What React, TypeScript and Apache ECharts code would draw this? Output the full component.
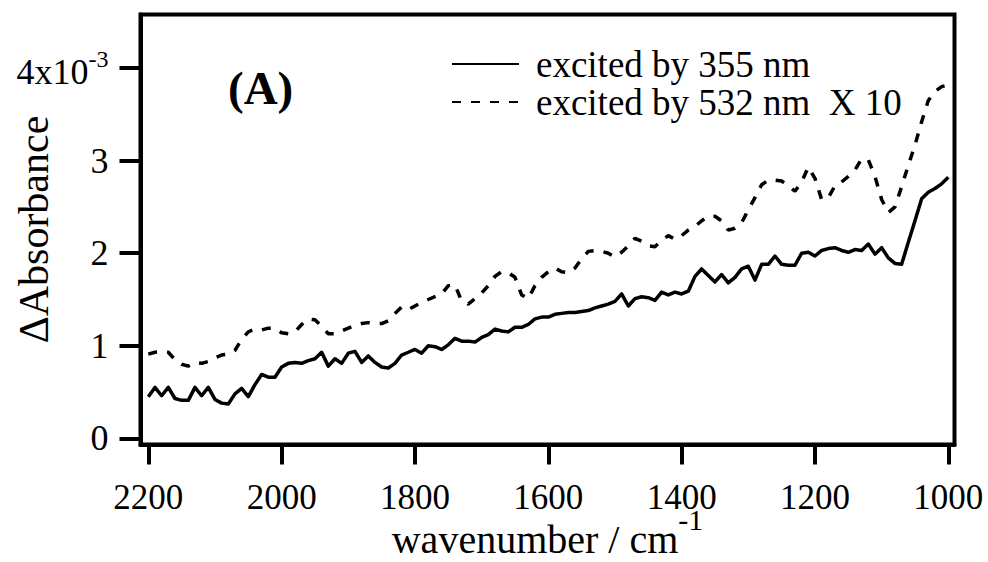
import React, { useEffect, useRef } from 'react';
import * as echarts from 'echarts';

const FONT = '"Liberation Serif", "Times New Roman", Times, serif';

// wavenumber / cm^-1
const wavenumbers = [
  2200, 2190, 2180, 2170, 2160, 2150, 2140, 2130, 2120, 2110,
  2100, 2090, 2080, 2070, 2060, 2050, 2040, 2030, 2020, 2010,
  2000, 1990, 1980, 1970, 1960, 1950, 1940, 1930, 1920, 1910,
  1900, 1890, 1880, 1870, 1860, 1850, 1840, 1830, 1820, 1810,
  1800, 1790, 1780, 1770, 1760, 1750, 1740, 1730, 1720, 1710,
  1700, 1690, 1680, 1670, 1660, 1650, 1640, 1630, 1620, 1610,
  1600, 1590, 1580, 1570, 1560, 1550, 1540, 1530, 1520, 1510,
  1500, 1490, 1480, 1470, 1460, 1450, 1440, 1430, 1420, 1410,
  1400, 1390, 1380, 1370, 1360, 1350, 1340, 1330, 1320, 1310,
  1300, 1290, 1280, 1270, 1260, 1250, 1240, 1230, 1220, 1210,
  1200, 1190, 1180, 1170, 1160, 1150, 1140, 1130, 1120, 1110,
  1100, 1090, 1080, 1070, 1060, 1050, 1040, 1030, 1020, 1010,
  1000,
];

// ΔAbsorbance (x10^-3), excited by 355 nm
const excited355 = [
  0.45, 0.55, 0.46, 0.55, 0.43, 0.41, 0.41, 0.55, 0.46, 0.55,
  0.42, 0.38, 0.37, 0.48, 0.54, 0.45, 0.58, 0.69, 0.66, 0.66,
  0.77, 0.81, 0.82, 0.81, 0.84, 0.86, 0.93, 0.78, 0.86, 0.81,
  0.92, 0.94, 0.82, 0.89, 0.82, 0.77, 0.76, 0.81, 0.90, 0.93,
  0.96, 0.92, 1.00, 0.99, 0.96, 1.01, 1.08, 1.05, 1.05, 1.04,
  1.09, 1.12, 1.18, 1.16, 1.15, 1.20, 1.20, 1.23, 1.29, 1.31,
  1.31, 1.34, 1.35, 1.36, 1.36, 1.37, 1.38, 1.41, 1.43, 1.45,
  1.48, 1.56, 1.43, 1.51, 1.53, 1.52, 1.49, 1.58, 1.55, 1.58,
  1.56, 1.59, 1.75, 1.83, 1.76, 1.69, 1.77, 1.68, 1.74, 1.83,
  1.86, 1.71, 1.88, 1.88, 1.97, 1.88, 1.87, 1.87, 2.00, 2.01,
  1.97, 2.03, 2.05, 2.06, 2.03, 2.01, 2.04, 2.03, 2.10, 1.99,
  2.06, 1.95, 1.89, 1.88, 2.12, 2.35, 2.59, 2.66, 2.70, 2.75,
  2.82,
];

// ΔAbsorbance (x10^-3), excited by 532 nm, multiplied by 10
const excited532x10 = [
  0.91, 0.93, 0.935, 0.93, 0.85, 0.80, 0.78, 0.82, 0.81, 0.83,
  0.87, 0.90, 0.91, 0.95, 1.07, 1.15, 1.18, 1.17, 1.19, 1.19,
  1.14, 1.13, 1.15, 1.23, 1.29, 1.28, 1.21, 1.13, 1.13, 1.16,
  1.19, 1.22, 1.24, 1.25, 1.24, 1.24, 1.27, 1.35, 1.42, 1.39,
  1.43, 1.47, 1.50, 1.53, 1.56, 1.65, 1.66, 1.48, 1.45, 1.51,
  1.57, 1.65, 1.75, 1.80, 1.79, 1.74, 1.55, 1.51, 1.65, 1.74,
  1.80, 1.84, 1.80, 1.79, 1.84, 1.94, 2.02, 2.03, 2.02, 2.00,
  1.96, 2.01, 2.08, 2.16, 2.13, 2.08, 2.07, 2.14, 2.19, 2.15,
  2.19, 2.25, 2.29, 2.35, 2.40, 2.40, 2.35, 2.25, 2.27, 2.33,
  2.47, 2.60, 2.74, 2.79, 2.79, 2.78, 2.73, 2.67, 2.77, 2.93,
  2.81, 2.58, 2.60, 2.73, 2.77, 2.83, 2.90, 3.02, 3.01, 2.83,
  2.58, 2.44, 2.50, 2.72, 2.95, 3.17, 3.42, 3.65, 3.75, 3.80,
  3.82,
];

const xTicks = [1000, 1200, 1400, 1600, 1800, 2000, 2200];
const yTicks = [0, 1, 2, 3, 4];
const seriesNames = ['excited by 355 nm', 'excited by 532 nm  X 10'];

export default function App() {
  const ref = useRef<HTMLDivElement>(null);
  useEffect(() => {
    const chart = echarts.init(ref.current!, null, { renderer: 'svg' });
    chart.setOption({
      animation: false,
      backgroundColor: '#fff',
      textStyle: { fontFamily: FONT, color: '#000' },
      grid: {
        left: 140.5, right: 33.5, top: 14.5, bottom: 117.5,
        containLabel: false, outerBoundsMode: 'none',
        show: true, borderColor: '#000', borderWidth: 4, backgroundColor: 'transparent',
      },
      legend: {
        orient: 'vertical', left: 451, top: 45.5, padding: 0,
        itemWidth: 67, itemHeight: 14, itemGap: 1,
        itemStyle: { opacity: 0 },
        textStyle: { fontSize: 37, fontFamily: FONT, color: '#000', padding: [0, 0, 0, 12] },
        data: seriesNames,
      },
      xAxis: {
        type: 'value', inverse: true, min: 990.7, max: 2211.7,
        axisLine: { show: true, onZero: false, lineStyle: { color: '#000', width: 4 } },
        axisTick: { show: true, length: 20, customValues: xTicks, lineStyle: { color: '#000', width: 4 } },
        axisLabel: {
          customValues: xTicks, margin: 35, fontSize: 35, color: '#000', fontFamily: FONT,
          formatter: (v: number) => String(v),
        },
        splitLine: { show: false },
        name: '{a|wavenumber / cm}{s|-1}', nameLocation: 'middle', nameGap: 60,
        nameMoveOverlap: false,
        nameTextStyle: {
          rich: {
            a: { fontSize: 40, lineHeight: 55, verticalAlign: 'bottom', fontFamily: FONT, color: '#000' },
            s: { fontSize: 30, verticalAlign: 'top', fontFamily: FONT, color: '#000' },
          },
        },
      },
      yAxis: {
        type: 'value', min: -0.067, max: 4.58,
        axisLine: { show: true, onZero: false, lineStyle: { color: '#000', width: 4 } },
        axisTick: { show: true, length: 21, customValues: yTicks, lineStyle: { color: '#000', width: 4 } },
        axisLabel: {
          customValues: yTicks, margin: 32, fontSize: 36, color: '#000', fontFamily: FONT,
          formatter: (v: number) => (v === 4 ? '{a|4x10}{s|-3}' : String(v)),
          rich: {
            a: { fontSize: 36, lineHeight: 43, verticalAlign: 'bottom', fontFamily: FONT, color: '#000' },
            s: { fontSize: 24, verticalAlign: 'top', fontFamily: FONT, color: '#000' },
          },
        },
        splitLine: { show: false },
        name: 'ΔAbsorbance', nameLocation: 'middle', nameGap: 86,
        nameMoveOverlap: false,
        nameTextStyle: { fontSize: 42, fontFamily: FONT, color: '#000' },
      },
      graphic: [
        {
          type: 'text', left: 228, top: 64,
          style: { text: '(A)', font: `bold 47px ${FONT}`, fill: '#000' },
        },
      ],
      series: [
        {
          name: seriesNames[0], type: 'line', symbol: 'none', showSymbol: false,
          data: wavenumbers.map((w, i) => [w, excited355[i]]),
          lineStyle: { color: '#000', width: 3.5, join: 'round' },
          itemStyle: { color: '#000' },
        },
        {
          name: seriesNames[1], type: 'line', symbol: 'none', showSymbol: false,
          data: wavenumbers.map((w, i) => [w, excited532x10[i]]),
          lineStyle: { color: '#000', width: 3.5, type: [9, 10] },
          itemStyle: { color: '#000' },
        },
      ],
    });
    return () => chart.dispose();
  }, []);
  return (
    <div
      ref={ref}
      style={{ position: 'fixed', left: 0, top: 0, width: 988, height: 562, background: '#fff' }}
    />
  );
}
